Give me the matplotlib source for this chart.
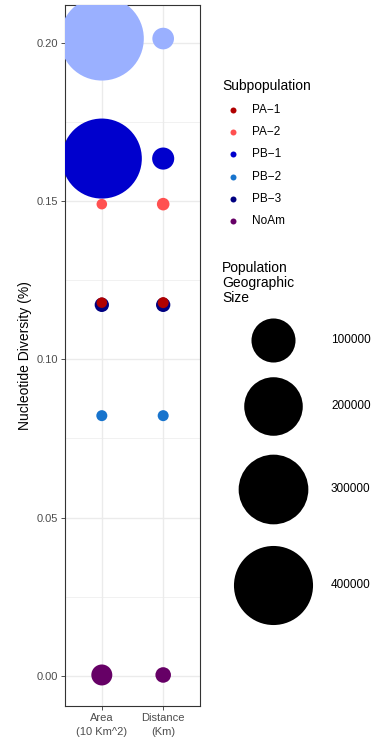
import numpy as np
import matplotlib
matplotlib.use('Agg')
import matplotlib.pyplot as plt

plt.rcParams['font.family'] = ['Liberation Sans', 'DejaVu Sans']

# Dados
grupos = ['PB-0', 'PB-1', 'PA-2', 'PB-3', 'PA-1', 'PB-2', 'NoAm']
cores = ['#9AB0FF', '#0000CD', '#FF5050', '#000080', '#B00000', '#1874CD', '#660066']
diversidade = [0.2013, 0.1634, 0.1490, 0.1172, 0.1179, 0.0822, 0.0003]
tamanho_area = [458000, 411000, 200, 2300, 200, 330, 11700]
tamanho_distancia = [13000, 14000, 1050, 2300, 330, 330, 3500]

categorias = ['Area\n(10 Km^2)', 'Distance\n(Km)']

legenda_grupos = ['PA\u22121', 'PA\u22122', 'PB\u22121', 'PB\u22122', 'PB\u22123', 'NoAm']
legenda_cores = ['#B00000', '#FF5050', '#0000CD', '#1874CD', '#000080', '#660066']
legenda_tamanhos = [100000, 200000, 300000, 400000]

DPI = 100
W, H = 385, 737


def raio_px(v):
    # escala de tamanho (raio em pixels)
    return 4.5 + 0.0554 * np.sqrt(np.asarray(v, dtype=float))


def s_pts(v):
    d = 2 * raio_px(v) * 72 / DPI
    return d ** 2


fig = plt.figure(figsize=(W / DPI, H / DPI), dpi=DPI)
ax = fig.add_axes([65 / W, 1 - 706 / H, 135 / W, 701 / H])

# Pontos
for i in range(len(grupos)):
    ax.scatter([0, 1], [diversidade[i], diversidade[i]],
               s=s_pts([tamanho_area[i], tamanho_distancia[i]]),
               color=cores[i], linewidths=0, zorder=3)

ax.set_xlim(-0.6, 1.6)
ax.set_ylim(-0.0095, 0.2119)
ax.set_xticks([0, 1])
ax.set_xticklabels(categorias)
for t in ax.get_xticklabels():
    t.set_linespacing(1.5)
ax.set_yticks([0, 0.05, 0.10, 0.15, 0.20])
ax.set_yticklabels(['0.00', '0.05', '0.10', '0.15', '0.20'])
ax.set_yticks([0.025, 0.075, 0.125, 0.175], minor=True)
ax.tick_params(axis='both', which='major', labelsize=8, labelcolor='#4D4D4D',
               color='#333333', length=3, width=0.6, pad=2)
ax.tick_params(axis='y', which='minor', length=0)
ax.grid(True, which='major', color='#EBEBEB', linewidth=1.0, zorder=0)
ax.grid(True, which='minor', axis='y', color='#EBEBEB', linewidth=0.5, zorder=0)
ax.set_axisbelow(True)
for sp in ax.spines.values():
    sp.set_color('#333333')
    sp.set_linewidth(0.8)
ax.set_ylabel('Nucleotide Diversity (%)', fontsize=10, labelpad=3)

# Legendas desenhadas à mão
lax = fig.add_axes([0, 0, 1, 1])
lax.set_xlim(0, W)
lax.set_ylim(H, 0)
lax.axis('off')

lax.text(222, 86, 'Subpopulation', fontsize=10, va='center', ha='left')
for j, (nome, cor) in enumerate(zip(legenda_grupos, legenda_cores)):
    y = 110 + j * 22.2
    lax.scatter([233], [y], s=(6 * 72 / DPI) ** 2, color=cor, linewidths=0)
    lax.text(252, y, nome, fontsize=8.5, va='center', ha='left')

lax.text(222, 283, 'Population\nGeographic\nSize', fontsize=10, va='center',
         ha='left', linespacing=1.1)
ys = [340, 406, 489, 585]
for v, y in zip(legenda_tamanhos, ys):
    lax.scatter([273], [y], s=s_pts(v), color='black', linewidths=0)
    lax.text(331, y, str(v), fontsize=8.5, va='center', ha='left')

fig.savefig('out.png', dpi=DPI)
